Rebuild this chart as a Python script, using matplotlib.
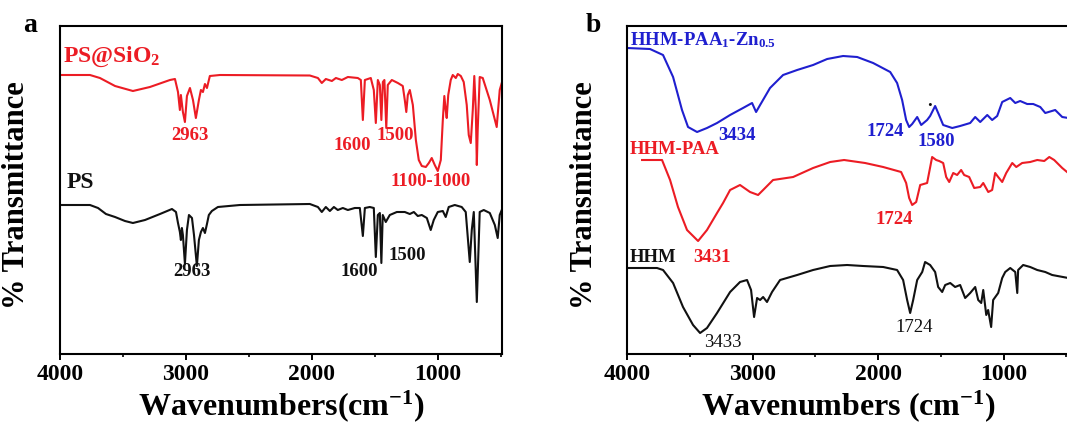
import matplotlib
matplotlib.use("Agg")
import matplotlib.pyplot as plt
from matplotlib.ticker import MultipleLocator

plt.rcParams['font.family'] = ['Liberation Serif', 'DejaVu Serif']
plt.rcParams['font.weight'] = 'bold'
plt.rcParams['mathtext.fontset'] = 'custom'
plt.rcParams['mathtext.rm'] = 'Liberation Serif:bold'
plt.rcParams['mathtext.it'] = 'Liberation Serif:bold:italic'
plt.rcParams['mathtext.bf'] = 'Liberation Serif:bold'

# ---------------- Panel a data (wavenumber cm-1, transmittance a.u. incl. offset) -------------
ps_sio2_wn = [4000, 3762, 3683, 3563, 3421, 3286, 3127, 3087, 3063, 3048, 3040, 3024, 3008, 2992,
              2968, 2944, 2921, 2897, 2881, 2865, 2849, 2833, 2810, 2730, 2016, 1952, 1921, 1889,
              1841, 1809, 1762, 1714, 1635, 1611, 1595, 1579, 1532, 1508, 1492, 1476, 1460, 1448,
              1436, 1424, 1409, 1397, 1365, 1317, 1278, 1262, 1250, 1238, 1222, 1198, 1174, 1151,
              1127, 1095, 1071, 1048, 1024, 1000, 976, 960, 948, 937, 929, 917, 897, 881, 857,
              841, 817, 794, 770, 754, 738, 722, 710, 698, 690, 683, 667, 643, 587, 532, 508, 492]
ps_sio2_t = [279, 279, 276, 268, 263, 267, 274, 275, 262, 244, 259, 242, 232, 258,
             266, 254, 236, 254, 264, 262, 270, 266, 278, 279, 278.5, 276, 271, 275,
             273, 276, 274, 277, 276, 274, 234, 274, 276, 264, 231, 274, 269, 234,
             272, 274, 226, 269, 274, 271, 268, 254, 242, 259, 264, 249, 214, 194,
             188, 187, 191, 196, 189, 183, 194, 234, 258, 244, 236, 259, 274, 279, 276,
             280, 278, 272, 249, 219, 211, 244, 278, 244, 189, 224, 277, 276, 254, 227, 264, 271]

ps_wn = [4000, 3762, 3698, 3635, 3563, 3484, 3421, 3325, 3206, 3111, 3079, 3063, 3048, 3040,
         3032, 3024, 3008, 2992, 2976, 2952, 2936, 2913, 2897, 2881, 2865, 2849, 2833, 2818,
         2794, 2746, 2571, 2016, 1952, 1921, 1889, 1857, 1825, 1794, 1754, 1714, 1659, 1619,
         1595, 1579, 1540, 1508, 1492, 1476, 1460, 1448, 1437, 1413, 1381, 1325, 1262, 1222,
         1190, 1159, 1127, 1087, 1056, 1032, 1000, 960, 937, 913, 865, 810, 778, 746, 730,
         714, 690, 667, 635, 587, 547, 524, 508, 492]
ps_t = [149, 149, 146, 140, 137, 133, 131, 134, 140, 145, 142, 131, 122, 114,
        126, 119, 90, 124, 139, 136, 119, 88, 114, 122, 126, 121, 130, 139,
        143, 147, 149, 150, 147, 142, 147, 143, 147, 144, 146, 144, 146, 146,
        118, 146, 147, 146, 97, 139, 141, 91, 139, 132, 139, 142, 142, 140,
        142, 138, 139, 136, 124, 134, 142, 143, 137, 147, 149, 147, 142, 92, 124,
        142, 52, 142, 144, 141, 129, 116, 139, 144]

# ---------------- Panel b data -------------
zn_wn = [4000, 3817, 3713, 3633, 3562, 3514, 3442, 3363, 3283, 3179, 3076, 3004, 2972, 2940,
         2861, 2757, 2645, 2518, 2406, 2279, 2167, 2040, 1904, 1849, 1809, 1777, 1753, 1729,
         1689, 1657, 1610, 1586, 1546, 1522, 1482, 1410, 1347, 1267, 1227, 1187, 1131, 1092,
         1052, 1012, 948, 908, 869, 813, 765, 709, 669, 590, 534, 486]
zn_t = [306, 305, 299, 277, 244, 227, 222, 226, 231, 239, 246, 251, 242, 249,
        266, 279, 284, 289, 295, 298, 297, 291, 282, 271, 254, 234, 227, 230,
        237, 229, 234, 238, 248, 241, 229, 226, 228, 231, 237, 232, 239, 234,
        238, 252, 256, 251, 253, 250, 250, 247, 241, 244, 237, 236]

paa_wn = [3880, 3721, 3657, 3594, 3522, 3434, 3363, 3283, 3235, 3179, 3100, 3020, 2956, 2916,
          2837, 2677, 2518, 2382, 2271, 2104, 1960, 1817, 1777, 1753, 1729, 1697, 1665, 1610,
          1570, 1538, 1514, 1482, 1458, 1434, 1402, 1371, 1339, 1315, 1275, 1235, 1187, 1163,
          1123, 1092, 1068, 1044, 1012, 980, 932, 900, 853, 789, 733, 677, 637, 598, 534, 486]
paa_t = [194, 194, 174, 147, 124, 113, 124, 141, 151, 164, 169, 162, 159, 164,
         174, 177, 186, 192, 194, 191, 187, 182, 171, 156, 149, 152, 169, 171,
         197, 194, 193, 191, 177, 172, 181, 179, 184, 179, 177, 166, 167, 171,
         162, 164, 181, 177, 172, 181, 191, 187, 191, 192, 194, 193, 197, 194, 186, 181]

hhm_wn = [3992, 3761, 3713, 3633, 3554, 3474, 3418, 3363, 3283, 3179, 3100, 3044, 3012, 2988,
          2964, 2940, 2916, 2885, 2845, 2781, 2645, 2518, 2382, 2247, 2120, 1960, 1849, 1801,
          1769, 1745, 1721, 1689, 1649, 1626, 1586, 1546, 1522, 1490, 1466, 1426, 1387, 1347,
          1307, 1267, 1227, 1203, 1179, 1163, 1139, 1124, 1100, 1084, 1044, 1012, 988, 948,
          908, 892, 885, 845, 789, 733, 669, 614, 486]
hhm_t = [86, 86, 84, 71, 47, 29, 21, 26, 41, 62, 72, 74, 64, 37,
         56, 54, 57, 52, 62, 74, 79, 84, 88, 89, 88, 87, 84, 74,
         54, 41, 54, 74, 82, 92, 89, 82, 67, 62, 69, 71, 67, 69,
         56, 61, 67, 54, 51, 64, 39, 44, 27, 54, 61, 76, 82, 86,
         82, 61, 84, 89, 87, 84, 82, 79, 76]

RED = '#ec1c24'
BLUE = '#1f1fcf'
BLACK = '#111111'

fig = plt.figure(figsize=(10.67, 4.23), dpi=100)
axa = fig.add_axes([60 / 1067, 69 / 423, 442 / 1067, 328 / 423])
axb = fig.add_axes([627 / 1067, 69 / 423, 442 / 1067, 328 / 423])

axa.plot(ps_sio2_wn, ps_sio2_t, color=RED, lw=1.5)
axa.plot(ps_wn, ps_t, color=BLACK, lw=1.5)
axb.plot(zn_wn, zn_t, color=BLUE, lw=1.5)
axb.plot(paa_wn, paa_t, color=RED, lw=1.5)
axb.plot(hhm_wn, hhm_t, color=BLACK, lw=1.5)

axa.set_xlim(4000, 490)
axb.set_xlim(4000, 480)
for ax in (axa, axb):
    ax.set_ylim(0, 328)
    ax.set_yticks([])
    ax.xaxis.set_major_locator(MultipleLocator(1000))
    ax.xaxis.set_minor_locator(MultipleLocator(500))
    ax.tick_params(axis='x', which='major', direction='out', length=4, width=1.4,
                   labelsize=17, pad=3)
    ax.tick_params(axis='x', which='minor', direction='out', length=2.5, width=1.2)
    for lab in ax.get_xticklabels():
        lab.set_fontweight('bold')
    for s in ax.spines.values():
        s.set_linewidth(1.5)
    ax.set_ylabel('% Transmittance', fontsize=22, fontweight='bold')

axa.yaxis.set_label_coords(-0.066, 0.485)
axb.yaxis.set_label_coords(-0.064, 0.485)

axa.set_xlabel(r'Wavenumbers(cm$^{-1}$)', fontsize=23, fontweight='bold')
axb.set_xlabel(r'Wavenumbers (cm$^{-1}$)', fontsize=23, fontweight='bold')
for ax in (axa, axb):
    ax.xaxis.label.set_va('center')
    ax.xaxis.set_label_coords(0.5, -0.16)

fs = 13.5
# panel a annotations
axa.text(3976, 297, r'PS@SiO$_2$', color=RED, fontsize=17, ha='left', va='center')
axa.text(2968, 219, '2963', color=RED, fontsize=fs, ha='center', va='center')
axa.text(1682, 208, '1600', color=RED, fontsize=fs, ha='center', va='center')
axa.text(1340, 219, '1500', color=RED, fontsize=fs, ha='center', va='center')
axa.text(1054, 172, '1100-1000', color=RED, fontsize=fs, ha='center', va='center')
axa.text(3944, 172, 'PS', color=BLACK, fontsize=17, ha='left', va='center')
axa.text(2952, 82, '2963', color=BLACK, fontsize=fs, ha='center', va='center')
axa.text(1626, 82, '1600', color=BLACK, fontsize=fs, ha='center', va='center')
axa.text(1245, 98, '1500', color=BLACK, fontsize=fs, ha='center', va='center')

# panel b annotations
axb.text(3976, 314, r'HHM-PAA$_1$-Zn$_{0.5}$', color=BLUE, fontsize=fs, ha='left', va='center')
axb.text(3124, 219, '3434', color=BLUE, fontsize=fs, ha='center', va='center')
axb.text(1944, 223, '1724', color=BLUE, fontsize=fs, ha='center', va='center')
axb.text(1538, 212, '1580', color=BLUE, fontsize=fs, ha='center', va='center')
axb.text(1594, 252, '.', color=BLACK, fontsize=fs, ha='center', va='center')
axb.text(3976, 204, 'HHM-PAA', color=RED, fontsize=fs, ha='left', va='center')
axb.text(3323, 97, '3431', color=RED, fontsize=fs, ha='center', va='center')
axb.text(1873, 135, '1724', color=RED, fontsize=fs, ha='center', va='center')
axb.text(3976, 97, 'HHM', color=BLACK, fontsize=fs, ha='left', va='center')
axb.text(3235, 12, '3433', color=BLACK, fontsize=fs, ha='center', va='center', fontweight='normal')
axb.text(1713, 26, '1724', color=BLACK, fontsize=fs, ha='center', va='center', fontweight='normal')

fig.text(30 / 1067, 1 - 26 / 423, 'a', fontsize=20, fontweight='bold', ha='center', va='center')
fig.text(593 / 1067, 1 - 26 / 423, 'b', fontsize=20, fontweight='bold', ha='center', va='center')

fig.savefig('out.png', dpi=100)
